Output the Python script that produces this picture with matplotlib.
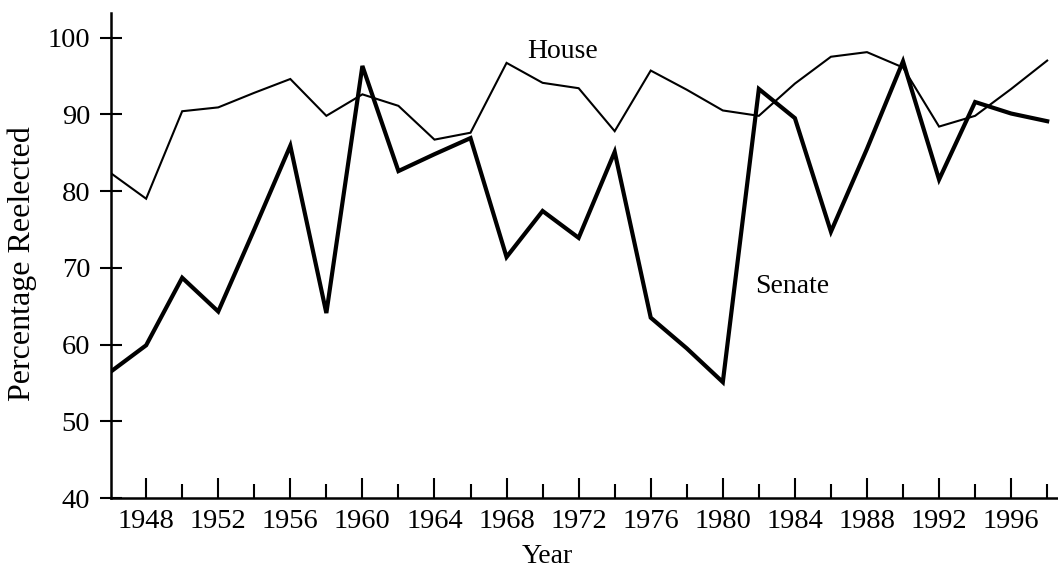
import matplotlib
matplotlib.use("Agg")
import matplotlib.pyplot as plt
from matplotlib.ticker import FixedLocator

years = [1946, 1948, 1950, 1952, 1954, 1956, 1958, 1960, 1962, 1964, 1966, 1968, 1970,
         1972, 1974, 1976, 1978, 1980, 1982, 1984, 1986, 1988, 1990, 1992, 1994, 1996, 1998]
house = [82.4, 79.0, 90.4, 90.9, 92.8, 94.6, 89.8, 92.6, 91.1, 86.7, 87.6, 96.7, 94.1,
         93.4, 87.8, 95.7, 93.2, 90.5, 89.8, 94.0, 97.5, 98.1, 96.1, 88.4, 89.8, 93.3, 97.0]
senate = [56.4, 59.9, 68.7, 64.3, 75.0, 85.9, 64.1, 96.3, 82.6, 84.8, 86.9, 71.4, 77.4,
          73.9, 85.1, 63.5, 59.5, 55.1, 93.3, 89.5, 74.7, 85.5, 96.9, 81.5, 91.6, 90.1, 89.1]
major_years = [1948, 1952, 1956, 1960, 1964, 1968, 1972, 1976, 1980, 1984, 1988, 1992, 1996]
minor_years = [1950, 1954, 1958, 1962, 1966, 1970, 1974, 1978, 1982, 1986, 1990, 1994, 1998]
y_ticks = [40, 50, 60, 70, 80, 90, 100]

plt.rcParams['font.family'] = ['Liberation Serif', 'DejaVu Serif']

W, H = 1058, 569
fig = plt.figure(figsize=(W / 100, H / 100), dpi=100)
ax = fig.add_axes([111 / W, 1 - 498 / H, 1 - 111 / W, (498 - 13) / H])

ax.plot(years, house, color='black', lw=1.5, solid_joinstyle='miter')
ax.plot(years, senate, color='black', lw=3.0, solid_joinstyle='miter')

ax.set_xlim(1946.05, 1998.6)
ax.set_ylim(40, 103.2)

for s in ['top', 'right']:
    ax.spines[s].set_visible(False)
for s in ['left', 'bottom']:
    ax.spines[s].set_linewidth(1.8)

ax.xaxis.set_major_locator(FixedLocator(major_years))
ax.xaxis.set_minor_locator(FixedLocator(minor_years))
ax.set_xticklabels([str(y) for y in major_years])
ax.tick_params(axis='x', which='major', direction='in', length=14.5, width=1.5,
               labelsize=20.5, pad=8)
ax.tick_params(axis='x', which='minor', direction='in', length=10, width=1.5)

ax.set_yticks(y_ticks)
ax.set_yticklabels([str(v) for v in y_ticks])
ax.tick_params(axis='y', which='major', direction='inout', length=16, width=1.5,
               labelsize=20.5, pad=7)

ax.text(1969.15, 97.4, 'House', fontsize=20, ha='left', va='baseline')
ax.text(1981.8, 66.7, 'Senate', fontsize=20, ha='left', va='baseline')

fig.text(22 / W, 1 - 264 / H, 'Percentage Reelected', rotation=90, fontsize=23,
         ha='center', va='center')
fig.text(547 / W, 1 - 563 / H, 'Year', fontsize=20, ha='center', va='baseline')

fig.savefig('out.png', dpi=100)
